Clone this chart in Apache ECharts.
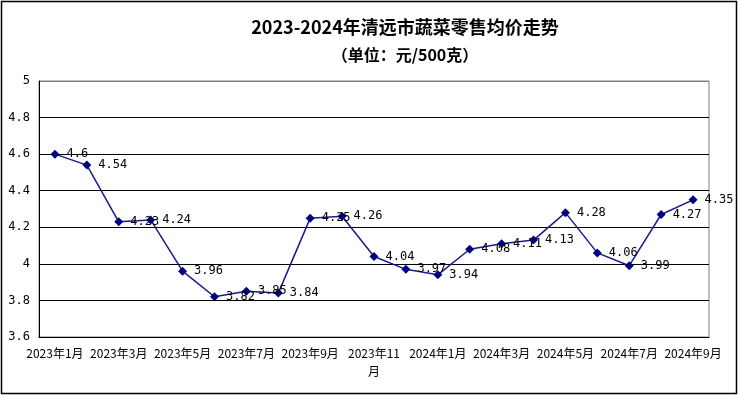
<!DOCTYPE html>
<html>
<head>
<meta charset="utf-8">
<script src="https://cdn.jsdelivr.net/npm/echarts@6/dist/echarts.min.js"></script>
<style>
  html, body { margin: 0; padding: 0; background: #fff; }
  #chart { width: 738px; height: 396px; }
</style>
</head>
<body>
<div id="chart"></div>
<script>
// 月份
var months = [
  '2023年1月', '2023年2月', '2023年3月', '2023年4月', '2023年5月', '2023年6月', '2023年7月',
  '2023年8月', '2023年9月', '2023年10月', '2023年11月', '2023年12月',
  '2024年1月', '2024年2月', '2024年3月', '2024年4月', '2024年5月', '2024年6月',
  '2024年7月', '2024年8月', '2024年9月'
];
// 均价 元/500克
var prices = [
  4.6, 4.54, 4.23, 4.24, 3.96, 3.82, 3.85, 3.84, 4.25, 4.26, 4.04, 3.97,
  3.94, 4.08, 4.11, 4.13, 4.28, 4.06, 3.99, 4.27, 4.35
];
var yMin = 3.6, yMax = 5, yStep = 0.2;

var myChart = echarts.init(document.getElementById('chart'));
var monoFont = '"DejaVu Sans Mono", monospace';
var cjkFont = '"Noto Sans CJK SC", sans-serif';

var option = {
  animation: false,
  backgroundColor: '#fff',
  title: [{
    text: '2023-2024年清远市蔬菜零售均价走势',
    left: 400,
    top: 13,
    textAlign: 'center',
    textStyle: { fontSize: 18, fontWeight: 'bold', color: '#000', fontFamily: cjkFont }
  }, {
    text: '（单位：元/500克）',
    left: 400,
    top: 42,
    textAlign: 'center',
    textStyle: { fontSize: 16, fontWeight: 'bold', color: '#000', fontFamily: cjkFont }
  }],
  graphic: [{
    type: 'rect',
    shape: { x: 1.5, y: 1.5, width: 735, height: 392 },
    style: { fill: 'none', stroke: '#000', lineWidth: 1.5 },
    silent: true
  }],
  grid: {
    left: 39,
    right: 29,
    top: 81,
    bottom: 59,
    show: true,
    borderColor: '#808080',
    borderWidth: 1
  },
  xAxis: {
    type: 'category',
    data: months,
    boundaryGap: true,
    axisLine: { lineStyle: { color: '#000', width: 1 } },
    axisTick: {
      inside: true,
      length: 5,
      interval: 1,
      lineStyle: { color: '#000' }
    },
    axisLabel: {
      interval: 1,
      margin: 7,
      color: '#000',
      fontSize: 12,
      fontFamily: cjkFont,
      lineHeight: 18,
      formatter: function (v) {
        // 长标签换行，同原图
        return v.length > 7 ? v.slice(0, 7) + '\n' + v.slice(7) : v;
      }
    }
  },
  yAxis: {
    type: 'value',
    min: yMin,
    max: yMax,
    interval: yStep,
    axisLine: { show: true, lineStyle: { color: '#000', width: 1 } },
    axisTick: { show: false },
    axisLabel: {
      margin: 9,
      color: '#000',
      fontSize: 12,
      fontFamily: monoFont
    },
    splitLine: {
      lineStyle: {
        color: ['#000', '#000', '#000', '#000', '#000', '#000', '#000', '#808080'],
        width: 1
      }
    }
  },
  series: [{
    type: 'line',
    data: prices,
    symbol: 'diamond',
    symbolSize: 9,
    lineStyle: { color: '#1a1a8c', width: 1.5 },
    itemStyle: { color: '#000080' },
    label: {
      show: true,
      position: 'right',
      distance: 7,
      color: '#000',
      fontSize: 12,
      fontFamily: monoFont
    }
  }]
};

myChart.setOption(option);
</script>
</body>
</html>
